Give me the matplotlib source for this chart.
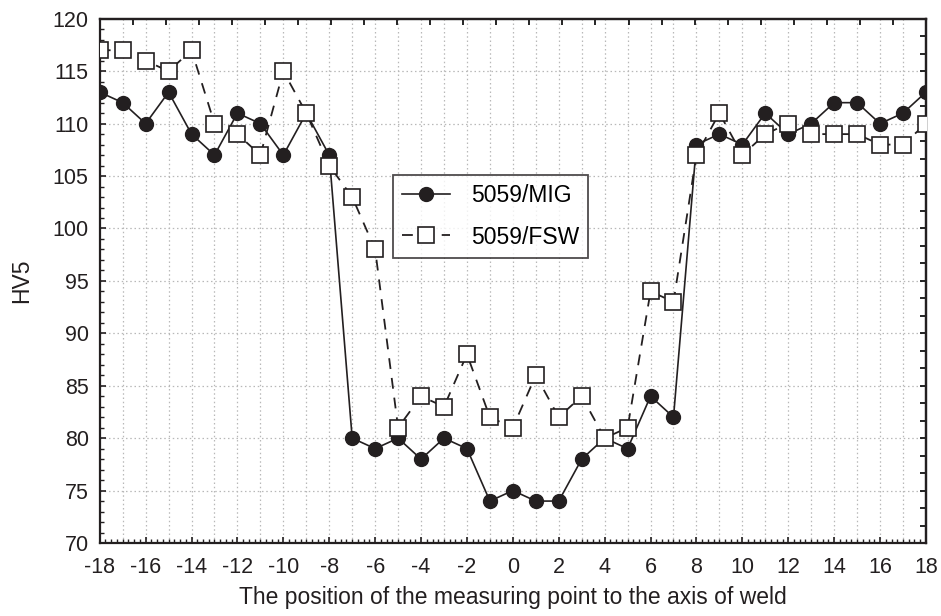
import numpy as np
import matplotlib
matplotlib.use("Agg")
import matplotlib.pyplot as plt
from matplotlib.ticker import MultipleLocator

plt.rcParams['font.family'] = ['Liberation Sans', 'DejaVu Sans']
plt.rcParams['axes.unicode_minus'] = False

# measuring point positions
positions = list(range(-18, 19))

# HV5 hardness, 5059/MIG
hv_mig = [113, 112, 110, 113, 109, 107, 111, 110, 107, 111, 107,
          80, 79, 80, 78, 80, 79, 74, 75, 74, 74, 78, 80, 79, 84, 82,
          108, 109, 108, 111, 109, 110, 112, 112, 110, 111, 113]

# HV5 hardness, 5059/FSW
hv_fsw = [117, 117, 116, 115, 117, 110, 109, 107, 115, 111, 106,
          103, 98, 81, 84, 83, 88, 82, 81, 86, 82, 84, 80, 81, 94, 93,
          107, 111, 107, 109, 110, 109, 109, 109, 108, 108, 110]

xticks = list(range(-18, 19, 2))
yticks = list(range(70, 121, 5))

fig = plt.figure(figsize=(9.41, 6.16), dpi=100)
ax = fig.add_axes([0.106, 0.1185, 0.878, 0.851])

ax.plot(positions, hv_mig, '-', color='#231f20', lw=1.2, marker='o',
        markersize=10, markerfacecolor='#231f20', markeredgecolor='#231f20',
        label='5059/MIG', zorder=3)
ax.plot(positions, hv_fsw, color='#231f20', lw=1.3, dashes=(6, 5),
        marker='s', markersize=11, markerfacecolor='white',
        markeredgecolor='#231f20', markeredgewidth=1.2,
        label='5059/FSW', zorder=4)

ax.set_xlim(-18, 18)
ax.set_ylim(70, 120)
ax.set_xticks(xticks)
ax.set_yticks(yticks)
ax.xaxis.set_minor_locator(MultipleLocator(0.25))
ax.yaxis.set_minor_locator(MultipleLocator(1))

# dotted grid: every unit in x, every 5 in y
for xv in range(-17, 18):
    ax.axvline(xv, color='#b8b8b8', lw=0.9, ls=(0, (1.2, 2.2)), zorder=0)
for yv in yticks[1:-1]:
    ax.axhline(yv, color='#b8b8b8', lw=0.9, ls=(0, (1.2, 2.2)), zorder=0)

ax.tick_params(axis='both', which='both', direction='in', labelsize=15.5,
               colors='#231f20')
ax.tick_params(which='major', length=4, width=1.2)
ax.tick_params(which='minor', length=3, width=1.0)
ax.tick_params(axis='x', pad=10)
ax.tick_params(axis='y', pad=8)

# top and right axes carry their own unlabeled ticks
top = ax.secondary_xaxis('top')
top.set_xticks(np.linspace(-18, 18, 26))
top.tick_params(direction='in', length=4, width=1.2, labeltop=False)
right = ax.secondary_yaxis('right')
right.set_yticks(np.linspace(70, 120, 31))
right.tick_params(direction='in', length=4, width=1.2, labelright=False)

for sp in list(ax.spines.values()) + [top.spines['top'], right.spines['right']]:
    sp.set_linewidth(1.6)
    sp.set_color('#231f20')

ax.set_xlabel('The position of the measuring point to the axis of weld',
              fontsize=16.5, color='#231f20', labelpad=6)
ax.set_ylabel('HV5', fontsize=16.5, color='#231f20', labelpad=14)

leg = ax.legend(loc='upper left', bbox_to_anchor=(0.355, 0.702), fontsize=16.5,
                frameon=True, fancybox=False, edgecolor='#231f20',
                handlelength=2.1, borderpad=0.4, labelspacing=0.8,
                handletextpad=0.9, borderaxespad=0)
leg.get_frame().set_linewidth(1.3)
leg.set_zorder(5)

fig.savefig('out.png', dpi=100)
